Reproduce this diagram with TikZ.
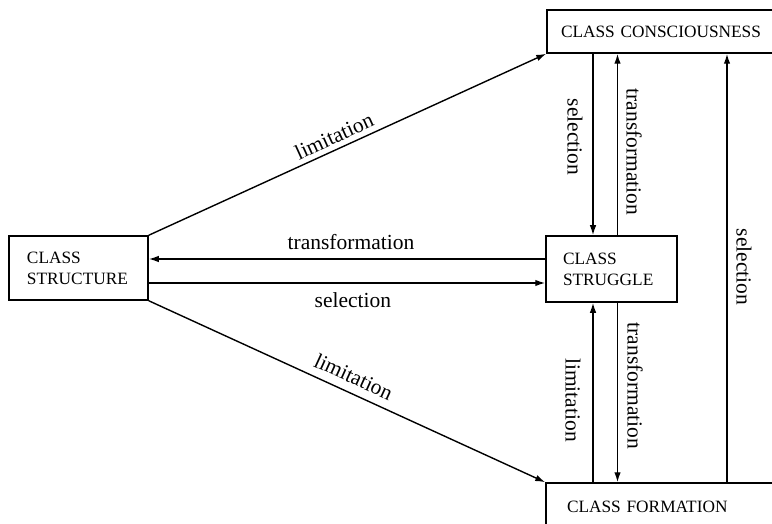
\documentclass[tikz,border=0pt]{standalone}
\usepackage{fontspec}
\setmainfont{Liberation Serif}
\usetikzlibrary{arrows.meta}
\begin{document}
\begin{tikzpicture}[x=1pt,y=-1pt,
  box/.style={draw, line width=1.5pt, rectangle, align=left,
    font=\fontsize{17.3}{21}\selectfont, inner ysep=0pt},
  arr/.style={line width=1.4pt, -{Latex[length=10pt,width=6.5pt]}},
  lab/.style={font=\fontsize{21.5}{24}\selectfont, inner sep=0pt}]
\useasboundingbox (0,0) rectangle (772,524);
\clip (0,0) rectangle (772,524);
% boxes
\node[box, minimum width=139pt, minimum height=64pt, inner xsep=18pt, text width=103pt]
  (structure) at (78.5,268) {CLASS\\STRUCTURE};
\node[box, minimum width=131pt, minimum height=66pt, inner xsep=17pt, text width=97pt]
  (struggle) at (611.5,269) {CLASS\\STRUGGLE};
\node[box, minimum width=230pt, minimum height=43pt, inner xsep=14pt, text width=202pt]
  (cons) at (662,31.5) {CLASS CONSCIOUSNESS};
\node[box, minimum width=231pt, minimum height=47pt, inner xsep=21pt, text width=189pt]
  (form) at (661.5,506.5) {CLASS FORMATION};
% helper coordinates
\coordinate (ya) at (0,259);
\coordinate (yb) at (0,283);
\coordinate (xa) at (593,0);
\coordinate (xb) at (617.5,0);
\coordinate (xc) at (727,0);
% diagonal arrows
\draw[arr] (structure.north east) -- node[lab, sloped, above=5pt, pos=0.48] (l1) {limitation} (cons.south west);
\draw[arr] (structure.south east) -- node[lab, sloped, above=8pt, pos=0.5] (l2) {limitation} (form.north west);
% horizontal arrows
\draw[arr] (struggle.west |- ya) -- node[lab, above=9pt, pos=0.49] (l3) {transformation} (structure.east |- ya);
\draw[arr] (structure.east |- yb) -- node[lab, below=9pt, pos=0.515] (l4) {selection} (struggle.west |- yb);
% vertical arrows
\draw[arr] (xa |- cons.south) -- (xa |- struggle.north);
\draw[arr] (xb |- struggle.north) -- (xb |- cons.south);
\draw[arr] (xa |- form.north) -- (xa |- struggle.south);
\draw[arr] (xb |- struggle.south) -- (xb |- form.north);
\draw[arr] (xc |- form.north) -- (xc |- cons.south);
% vertical labels
\node[lab, rotate=-90] (l5) at (575,137) {selection};
\node[lab, rotate=-90] (l6) at (634,152) {transformation};
\node[lab, rotate=-90] (l7) at (573,400) {limitation};
\node[lab, rotate=-90] (l8) at (635,386) {transformation};
\node[lab, rotate=-90] (l9) at (744,267) {selection};
\end{tikzpicture}
\end{document}
